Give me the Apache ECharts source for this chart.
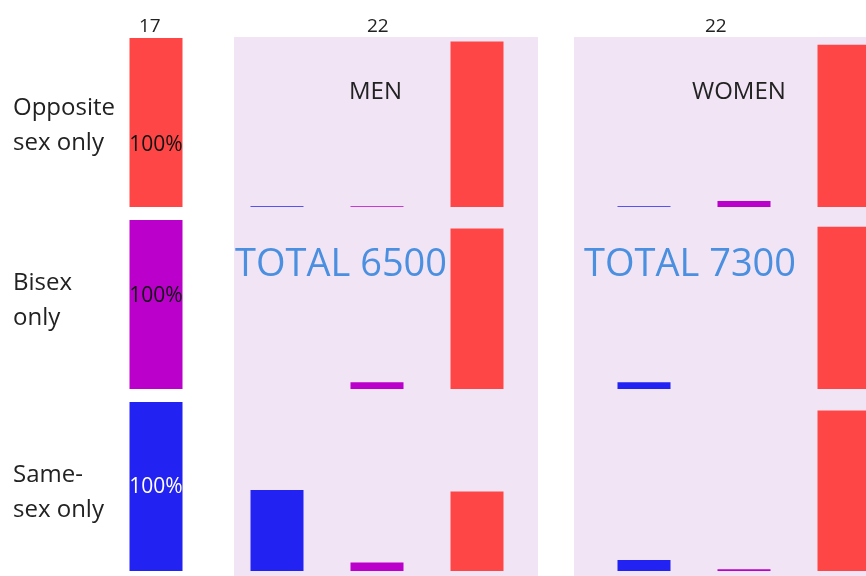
<!DOCTYPE html>
<html>
<head>
<meta charset="utf-8">
<script src="https://cdn.jsdelivr.net/npm/echarts@6/dist/echarts.min.js"></script>
<style>
  html, body { margin: 0; padding: 0; background: #fff; }
  #main { width: 866px; height: 576px; }
</style>
</head>
<body>
<div id="main"></div>
<script>
// rows = sexuality at 17, columns = sexuality at 22 (percent of row)
var rowLabels = ['Opposite\nsex only', 'Bisex\nonly', 'Same-\nsex only'];
var outcomes = ['Same-sex only', 'Bisex only', 'Opposite sex only'];
var age17 = [100, 100, 100];
var menOpposite = [0.5, 0.5, 98];
var menBisex = [0, 4, 95];
var menSame = [48, 5, 47];
var womenOpposite = [0.5, 3.5, 96];
var womenBisex = [4, 0, 96];
var womenSame = [6.5, 1, 95];
var totals = ['TOTAL 6500', 'TOTAL 7300'];

var colors = ['#2222f2', '#bb00cc', '#ff4646'];
var men = [menOpposite, menBisex, menSame];
var women = [womenOpposite, womenBisex, womenSame];

var chart = echarts.init(document.getElementById('main'));

// row geometry
var rowTop = [38, 220, 402];
var rowH = 169;
var labelShift = [[0, 23], [0, -8], [0, 1]];
var groups = [
  { left: 106, width: 100 },   // age 17
  { left: 227, width: 300 },   // men 22
  { left: 594, width: 300 }    // women 22 (runs off the right edge)
];

var grids = [], xAxes = [], yAxes = [], series = [];
var idx = 0;
for (var r = 0; r < 3; r++) {
  for (var g = 0; g < 3; g++) {
    grids.push({
      left: groups[g].left, width: groups[g].width, top: rowTop[r], height: rowH,
      outerBoundsMode: 'none', containLabel: false
    });
    xAxes.push({
      type: 'category', gridIndex: idx, show: false,
      data: g === 0 ? [rowLabels[r]] : outcomes
    });
    yAxes.push({ type: 'value', gridIndex: idx, min: 0, max: 100, show: false });
    var data;
    if (g === 0) {
      data = [{
        value: age17[r],
        itemStyle: { color: colors[2 - r] },
        label: { color: r === 2 ? '#ffffff' : '#111111', offset: labelShift[r] }
      }];
    } else {
      var src = g === 1 ? men[r] : women[r];
      data = src.map(function (v, i) {
        return { value: v, itemStyle: { color: colors[i] } };
      });
    }
    series.push({
      type: 'bar', xAxisIndex: idx, yAxisIndex: idx,
      barWidth: 53, data: data, silent: true,
      label: {
        show: g === 0, position: 'inside', formatter: '{c}%',
        fontFamily: 'Open Sans', fontSize: 21, overflow: 'none'
      }
    });
    idx++;
  }
}

var txt = function (x, y, text, size, color) {
  return {
    type: 'text', left: x, top: y, z: 10,
    style: {
      text: text, fontFamily: 'Open Sans', fontSize: size, fill: color || '#222',
      lineHeight: Math.max(35, size)
    }
  };
};

var option = {
  animation: false,
  backgroundColor: '#ffffff',
  grid: grids,
  xAxis: xAxes,
  yAxis: yAxes,
  series: series,
  graphic: [
    { type: 'rect', shape: { x: 234, y: 37, width: 304, height: 545 }, style: { fill: '#f1e4f5' }, z: -10 },
    { type: 'rect', shape: { x: 574, y: 37, width: 300, height: 545 }, style: { fill: '#f1e4f5' }, z: -10 },
    txt(13, 91, rowLabels[0], 24),
    txt(13, 266, rowLabels[1], 24),
    txt(13, 458, rowLabels[2], 24),
    txt(139, 9, '17', 19),
    txt(367, 9, '22', 19),
    txt(705, 9, '22', 19),
    txt(349, 75, 'MEN', 24),
    txt(692, 75, 'WOMEN', 24),
    txt(235, 246, totals[0], 38, '#4a8fe0'),
    txt(584, 246, totals[1], 38, '#4a8fe0')
  ]
};
chart.setOption(option);
</script>
</body>
</html>
